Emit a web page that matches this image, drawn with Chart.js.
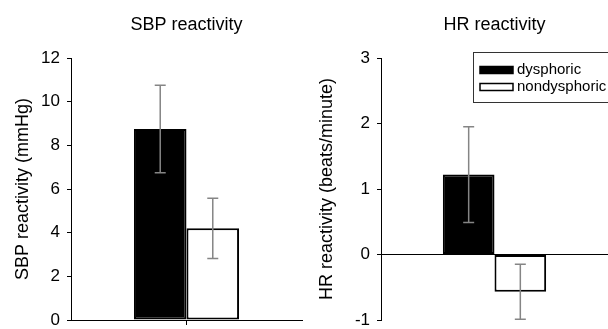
<!DOCTYPE html>
<html lang="en">
<head>
<meta charset="UTF-8">
<title>SBP and HR reactivity</title>
<script src="https://cdn.jsdelivr.net/npm/chart.js@4.4.0/dist/chart.umd.min.js"></script>
<style>
    body { margin: 0; background: #fff; }
    .panel { position: absolute; top: 0; width: 304px; height: 329px; }
    #left { left: 0; }
    #right { left: 304px; }
</style>
</head>
<body>
<div class="panel" id="left"><canvas id="sbpChart" width="304" height="329"></canvas></div>
<div class="panel" id="right"><canvas id="hrChart" width="304" height="329"></canvas></div>

<script>
    // values
    const groups = ['dysphoric', 'nondysphoric'];
    const sbpMeans = [8.75, 4.2];
    const sbpSE = [2.0, 1.38];
    const hrMeans = [1.22, -0.57];
    const hrSE = [0.73, 0.42];
    const sbpTicks = [0, 2, 4, 6, 8, 10, 12];
    const hrTicks = [-1, 0, 1, 2, 3];

    const FONT = "'Liberation Sans', Arial, sans-serif";
    const fills = ['#000000', '#ffffff'];

    // error bars drawn from the bar elements + y scale
    const errorBars = {
        id: 'errorBars',
        afterDatasetsDraw(chart, args, opts) {
            const ctx = chart.ctx;
            const y = chart.scales.y;
            ctx.save();
            ctx.strokeStyle = '#858585';
            ctx.lineWidth = 1.5;
            chart.data.datasets.forEach((ds, i) => {
                const bar = chart.getDatasetMeta(i).data[0];
                const hi = y.getPixelForValue(ds.data[0] + ds.se);
                const lo = y.getPixelForValue(ds.data[0] - ds.se);
                ctx.beginPath();
                ctx.moveTo(bar.x, hi); ctx.lineTo(bar.x, lo);
                ctx.moveTo(bar.x - 5.5, hi); ctx.lineTo(bar.x + 5.5, hi);
                ctx.moveTo(bar.x - 5.5, lo); ctx.lineTo(bar.x + 5.5, lo);
                ctx.stroke();
            });
            ctx.restore();
        }
    };

    // title centred over the plot area
    const plotTitle = {
        id: 'plotTitle',
        afterDraw(chart, args, opts) {
            const ctx = chart.ctx;
            const a = chart.chartArea;
            ctx.save();
            ctx.font = '18px ' + FONT;
            ctx.fillStyle = '#000';
            ctx.textAlign = 'center';
            ctx.textBaseline = 'middle';
            ctx.fillText(opts.text, (a.left + a.right) / 2, 25);
            ctx.restore();
        }
    };

    // boxed legend, top right of the HR panel
    const boxLegend = {
        id: 'boxLegend',
        afterDraw(chart, args, opts) {
            if (!opts.show) return;
            const ctx = chart.ctx;
            const x0 = 169, y0 = 52;
            ctx.save();
            ctx.strokeStyle = '#333';
            ctx.lineWidth = 1;
            ctx.strokeRect(x0 + 0.5, y0 + 0.5, 160, 50);
            ctx.font = '15px ' + FONT;
            ctx.textBaseline = 'middle';
            chart.data.datasets.forEach((ds, i) => {
                const cy = 70 + i * 17;
                ctx.fillStyle = ds.backgroundColor;
                ctx.fillRect(x0 + 7, cy - 3.5, 33, 7);
                ctx.lineWidth = 1.5;
                ctx.strokeStyle = '#000';
                ctx.strokeRect(x0 + 7, cy - 3.5, 33, 7);
                ctx.fillStyle = '#000';
                ctx.fillText(ds.label, x0 + 44, cy);
            });
            ctx.restore();
        }
    };

    function makeChart(id, means, se, ticks, title, yLabel, axisWidth, rightPad, isHR) {
        return new Chart(document.getElementById(id), {
            type: 'bar',
            data: {
                labels: [''],
                datasets: groups.map((g, i) => ({
                    label: g,
                    data: [means[i]],
                    se: se[i],
                    backgroundColor: fills[i],
                    borderColor: '#000',
                    borderWidth: 2,
                    borderSkipped: false,
                    categoryPercentage: 0.455,
                    barPercentage: 1
                }))
            },
            plugins: [errorBars, plotTitle, boxLegend],
            options: {
                responsive: false,
                animation: false,
                layout: { padding: { top: 58, left: 0, right: rightPad, bottom: isHR ? 9 : 4 } },
                plugins: {
                    legend: { display: false },
                    tooltip: { enabled: false },
                    title: { display: false },
                    plotTitle: { text: title },
                    boxLegend: { show: isHR }
                },
                scales: {
                    x: {
                        display: !isHR,
                        grid: { display: true, offset: false, drawOnChartArea: false, tickLength: 5, color: '#000' },
                        border: { display: true, color: '#000', width: 1 },
                        ticks: { display: false }
                    },
                    y: {
                        min: ticks[0],
                        max: ticks[ticks.length - 1],
                        afterFit(scale) {
                            scale.width = axisWidth;
                            scale.paddingTop = 0;
                            scale.paddingBottom = 0;
                        },
                        afterBuildTicks(scale) { scale.ticks = ticks.map(v => ({ value: v })); },
                        border: { display: true, color: '#000', width: 1 },
                        grid: {
                            drawOnChartArea: isHR,
                            color: c => (c.tick && c.tick.value === 0) ? '#000' : 'rgba(0,0,0,0)',
                            tickColor: '#000',
                            tickLength: 4
                        },
                        ticks: { color: '#000', padding: 7, font: { family: FONT, size: 17 } },
                        title: {
                            display: true,
                            text: yLabel,
                            color: '#000',
                            font: { family: FONT, size: 18 },
                            padding: { top: 12, bottom: 0 }
                        }
                    }
                }
            }
        });
    }

    makeChart('sbpChart', sbpMeans, sbpSE, sbpTicks, 'SBP reactivity', 'SBP reactivity (mmHg)', 71, 2, false);
    makeChart('hrChart', hrMeans, hrSE, hrTicks, 'HR reactivity', 'HR reactivity (beats/minute)', 77, 0, true);
</script>
</body>
</html>
